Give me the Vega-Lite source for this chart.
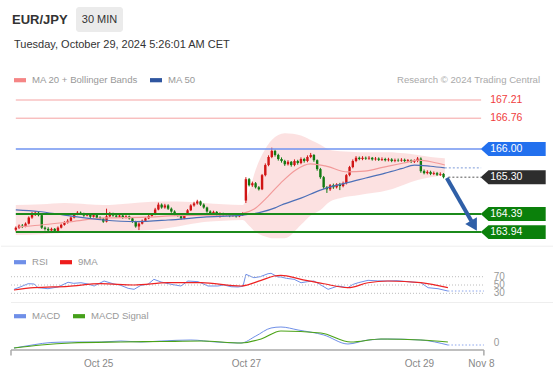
{
  "$schema": "https://vega.github.io/schema/vega-lite/v6.json",
  "background": "white",
  "padding": {"left": 0, "top": 7, "right": 0, "bottom": 0},
  "autosize": {"type": "pad"},
  "spacing": 0,
  "config": {"view": {"stroke": null}, "font": "Liberation Sans"},
  "resolve": {"scale": {"color": "independent"}, "legend": {"color": "independent"}},
  "datasets": {
    "candles": [
      {"i":0,"o":164.00,"c":164.05,"h":164.08,"l":163.96},{"i":1,"o":164.05,"c":164.10,"h":164.13,"l":164.02},{"i":2,"o":164.10,"c":164.08,"h":164.14,"l":164.04},{"i":3,"o":164.08,"c":164.15,"h":164.18,"l":164.06},{"i":4,"o":164.15,"c":164.30,"h":164.33,"l":164.13},{"i":5,"o":164.30,"c":164.38,"h":164.44,"l":164.27},{"i":6,"o":164.38,"c":164.42,"h":164.46,"l":164.34},{"i":7,"o":164.42,"c":164.36,"h":164.45,"l":164.33},{"i":8,"o":164.36,"c":164.05,"h":164.39,"l":164.02},{"i":9,"o":164.05,"c":164.02,"h":164.08,"l":163.98},
      {"i":10,"o":164.02,"c":163.98,"h":164.06,"l":163.95},{"i":11,"o":163.98,"c":164.02,"h":164.05,"l":163.95},{"i":12,"o":164.02,"c":163.97,"h":164.04,"l":163.93},{"i":13,"o":163.97,"c":164.05,"h":164.08,"l":163.95},{"i":14,"o":164.05,"c":164.12,"h":164.15,"l":164.03},{"i":15,"o":164.12,"c":164.18,"h":164.21,"l":164.10},{"i":16,"o":164.18,"c":164.22,"h":164.26,"l":164.15},{"i":17,"o":164.22,"c":164.30,"h":164.33,"l":164.20},{"i":18,"o":164.30,"c":164.38,"h":164.41,"l":164.28},{"i":19,"o":164.38,"c":164.42,"h":164.46,"l":164.36},
      {"i":20,"o":164.42,"c":164.40,"h":164.45,"l":164.37},{"i":21,"o":164.40,"c":164.35,"h":164.42,"l":164.32},{"i":22,"o":164.35,"c":164.37,"h":164.40,"l":164.33},{"i":23,"o":164.37,"c":164.32,"h":164.39,"l":164.29},{"i":24,"o":164.32,"c":164.36,"h":164.39,"l":164.30},{"i":25,"o":164.36,"c":164.30,"h":164.38,"l":164.27},{"i":26,"o":164.30,"c":164.27,"h":164.33,"l":164.24},{"i":27,"o":164.27,"c":164.20,"h":164.29,"l":164.17},{"i":28,"o":164.20,"c":164.33,"h":164.52,"l":164.18},{"i":29,"o":164.33,"c":164.40,"h":164.44,"l":164.31},
      {"i":30,"o":164.40,"c":164.35,"h":164.42,"l":164.32},{"i":31,"o":164.35,"c":164.32,"h":164.38,"l":164.29},{"i":32,"o":164.32,"c":164.35,"h":164.38,"l":164.30},{"i":33,"o":164.35,"c":164.30,"h":164.37,"l":164.27},{"i":34,"o":164.30,"c":164.33,"h":164.36,"l":164.28},{"i":35,"o":164.33,"c":164.28,"h":164.35,"l":164.25},{"i":36,"o":164.28,"c":164.20,"h":164.30,"l":164.17},{"i":37,"o":164.20,"c":164.08,"h":164.22,"l":164.05},{"i":38,"o":164.08,"c":164.15,"h":164.18,"l":163.99},{"i":39,"o":164.15,"c":164.22,"h":164.25,"l":164.13},
      {"i":40,"o":164.22,"c":164.28,"h":164.31,"l":164.20},{"i":41,"o":164.28,"c":164.34,"h":164.37,"l":164.26},{"i":42,"o":164.34,"c":164.38,"h":164.41,"l":164.32},{"i":43,"o":164.38,"c":164.50,"h":164.54,"l":164.36},{"i":44,"o":164.50,"c":164.62,"h":164.67,"l":164.48},{"i":45,"o":164.62,"c":164.55,"h":164.65,"l":164.52},{"i":46,"o":164.55,"c":164.60,"h":164.64,"l":164.52},{"i":47,"o":164.60,"c":164.52,"h":164.63,"l":164.49},{"i":48,"o":164.52,"c":164.45,"h":164.55,"l":164.42},{"i":49,"o":164.45,"c":164.38,"h":164.48,"l":164.35},
      {"i":50,"o":164.38,"c":164.35,"h":164.41,"l":164.32},{"i":51,"o":164.35,"c":164.28,"h":164.37,"l":164.25},{"i":52,"o":164.28,"c":164.36,"h":164.39,"l":164.26},{"i":53,"o":164.36,"c":164.48,"h":164.51,"l":164.34},{"i":54,"o":164.48,"c":164.60,"h":164.63,"l":164.46},{"i":55,"o":164.60,"c":164.65,"h":164.69,"l":164.57},{"i":56,"o":164.65,"c":164.70,"h":164.74,"l":164.62},{"i":57,"o":164.70,"c":164.62,"h":164.72,"l":164.59},{"i":58,"o":164.62,"c":164.55,"h":164.65,"l":164.52},{"i":59,"o":164.55,"c":164.45,"h":164.57,"l":164.42},
      {"i":60,"o":164.45,"c":164.40,"h":164.48,"l":164.37},{"i":61,"o":164.40,"c":164.44,"h":164.47,"l":164.38},{"i":62,"o":164.44,"c":164.38,"h":164.46,"l":164.35},{"i":63,"o":164.38,"c":164.40,"h":164.43,"l":164.30},{"i":64,"o":164.40,"c":164.36,"h":164.42,"l":164.33},{"i":65,"o":164.36,"c":164.38,"h":164.41,"l":164.34},{"i":66,"o":164.38,"c":164.34,"h":164.40,"l":164.31},{"i":67,"o":164.34,"c":164.37,"h":164.40,"l":164.32},{"i":68,"o":164.37,"c":164.33,"h":164.39,"l":164.30},{"i":69,"o":164.33,"c":164.36,"h":164.39,"l":164.31},
      {"i":70,"o":164.36,"c":164.40,"h":164.43,"l":164.34},{"i":71,"o":164.72,"c":165.25,"h":165.30,"l":164.66},{"i":72,"o":165.25,"c":165.10,"h":165.28,"l":165.07},{"i":73,"o":165.10,"c":165.15,"h":165.19,"l":165.06},{"i":74,"o":165.15,"c":165.05,"h":165.18,"l":165.02},{"i":75,"o":165.05,"c":165.00,"h":165.08,"l":164.97},{"i":76,"o":165.00,"c":165.35,"h":165.38,"l":164.98},{"i":77,"o":165.35,"c":165.60,"h":165.64,"l":165.32},{"i":78,"o":165.60,"c":165.80,"h":165.84,"l":165.57},{"i":79,"o":165.80,"c":165.95,"h":166.03,"l":165.77},
      {"i":80,"o":165.95,"c":165.85,"h":165.98,"l":165.81},{"i":81,"o":165.85,"c":165.75,"h":165.88,"l":165.71},{"i":82,"o":165.75,"c":165.70,"h":165.79,"l":165.66},{"i":83,"o":165.70,"c":165.62,"h":165.73,"l":165.58},{"i":84,"o":165.62,"c":165.68,"h":165.72,"l":165.59},{"i":85,"o":165.68,"c":165.60,"h":165.70,"l":165.56},{"i":86,"o":165.60,"c":165.70,"h":165.74,"l":165.57},{"i":87,"o":165.70,"c":165.65,"h":165.73,"l":165.61},{"i":88,"o":165.65,"c":165.75,"h":165.79,"l":165.62},{"i":89,"o":165.75,"c":165.70,"h":165.78,"l":165.66},
      {"i":90,"o":165.70,"c":165.80,"h":165.84,"l":165.67},{"i":91,"o":165.80,"c":165.85,"h":165.90,"l":165.77},{"i":92,"o":165.85,"c":165.72,"h":165.87,"l":165.68},{"i":93,"o":165.72,"c":165.50,"h":165.74,"l":165.46},{"i":94,"o":165.50,"c":165.30,"h":165.53,"l":165.26},{"i":95,"o":165.30,"c":165.05,"h":165.33,"l":165.01},{"i":96,"o":165.05,"c":165.00,"h":165.08,"l":164.91},{"i":97,"o":165.00,"c":165.10,"h":165.13,"l":164.96},{"i":98,"o":165.10,"c":165.05,"h":165.14,"l":165.01},{"i":99,"o":165.05,"c":165.12,"h":165.15,"l":165.02},
      {"i":100,"o":165.12,"c":165.08,"h":165.16,"l":164.98},{"i":101,"o":165.08,"c":165.15,"h":165.19,"l":165.05},{"i":102,"o":165.15,"c":165.35,"h":165.38,"l":165.12},{"i":103,"o":165.35,"c":165.55,"h":165.58,"l":165.32},{"i":104,"o":165.55,"c":165.70,"h":165.74,"l":165.52},{"i":105,"o":165.70,"c":165.78,"h":165.82,"l":165.67},{"i":106,"o":165.78,"c":165.75,"h":165.81,"l":165.72},{"i":107,"o":165.75,"c":165.78,"h":165.82,"l":165.72},{"i":108,"o":165.78,"c":165.76,"h":165.81,"l":165.73},{"i":109,"o":165.76,"c":165.78,"h":165.82,"l":165.73},
      {"i":110,"o":165.78,"c":165.74,"h":165.80,"l":165.71},{"i":111,"o":165.74,"c":165.76,"h":165.80,"l":165.71},{"i":112,"o":165.76,"c":165.73,"h":165.79,"l":165.70},{"i":113,"o":165.73,"c":165.75,"h":165.79,"l":165.70},{"i":114,"o":165.75,"c":165.72,"h":165.78,"l":165.69},{"i":115,"o":165.72,"c":165.74,"h":165.78,"l":165.69},{"i":116,"o":165.74,"c":165.70,"h":165.77,"l":165.67},{"i":117,"o":165.70,"c":165.72,"h":165.76,"l":165.67},{"i":118,"o":165.72,"c":165.71,"h":165.76,"l":165.68},{"i":119,"o":165.71,"c":165.73,"h":165.77,"l":165.68},
      {"i":120,"o":165.73,"c":165.70,"h":165.76,"l":165.67},{"i":121,"o":165.70,"c":165.72,"h":165.75,"l":165.67},{"i":122,"o":165.72,"c":165.68,"h":165.74,"l":165.65},{"i":123,"o":165.68,"c":165.70,"h":165.74,"l":165.65},{"i":124,"o":165.70,"c":165.76,"h":165.80,"l":165.67},{"i":125,"o":165.76,"c":165.45,"h":165.79,"l":165.41},{"i":126,"o":165.45,"c":165.40,"h":165.49,"l":165.37},{"i":127,"o":165.40,"c":165.43,"h":165.47,"l":165.37},{"i":128,"o":165.43,"c":165.38,"h":165.46,"l":165.35},{"i":129,"o":165.38,"c":165.40,"h":165.44,"l":165.35},
      {"i":130,"o":165.40,"c":165.36,"h":165.43,"l":165.33},{"i":131,"o":165.36,"c":165.38,"h":165.42,"l":165.33},{"i":132,"o":165.38,"c":165.30,"h":165.40,"l":165.27}
    ],
    "bb": [
      {"i":0,"up":164.61,"lo":163.87},{"i":8,"up":164.63,"lo":163.89},{"i":15,"up":164.66,"lo":163.92},{"i":22,"up":164.63,"lo":163.93},{"i":27,"up":164.61,"lo":163.94},{"i":35,"up":164.65,"lo":163.97},{"i":42,"up":164.69,"lo":163.99},{"i":50,"up":164.70,"lo":164.08},{"i":58,"up":164.66,"lo":164.19},{"i":64,"up":164.63,"lo":164.22},{"i":70,"up":164.61,"lo":164.24},{"i":72,"up":164.95,"lo":164.10},{"i":74,"up":165.48,"lo":163.94},{"i":77,"up":166.00,"lo":163.83},{"i":79,"up":166.22,"lo":163.79},{"i":83,"up":166.39,"lo":163.79},{"i":88,"up":166.33,"lo":164.12},{"i":91,"up":166.22,"lo":164.35},{"i":94,"up":166.10,"lo":164.49},{"i":97,"up":165.97,"lo":164.70},{"i":100,"up":165.94,"lo":164.78},{"i":106,"up":165.92,"lo":164.86},{"i":115,"up":165.92,"lo":164.98},{"i":120,"up":165.89,"lo":165.12},{"i":124,"up":165.85,"lo":165.23},{"i":128,"up":165.80,"lo":165.30},{"i":132.4,"up":165.77,"lo":165.35}
    ],
    "ma20": [
      {"i":0.9,"v":164.07},{"i":7,"v":164.11},{"i":17.3,"v":164.20},{"i":27.3,"v":164.29},{"i":40.3,"v":164.31},{"i":47.6,"v":164.34},{"i":57.6,"v":164.36},{"i":67.6,"v":164.36},{"i":69.7,"v":164.40},{"i":73.6,"v":164.51},{"i":77.3,"v":164.78},{"i":81.8,"v":165.16},{"i":86.4,"v":165.48},{"i":90.9,"v":165.63},{"i":95.5,"v":165.58},{"i":102.4,"v":165.43},{"i":107.6,"v":165.45},{"i":113.6,"v":165.55},{"i":119.7,"v":165.65},{"i":124.2,"v":165.72},{"i":128.8,"v":165.67},{"i":132.4,"v":165.60}
    ],
    "ma50": [
      {"i":0,"v":164.49},{"i":7,"v":164.45},{"i":15,"v":164.36},{"i":27,"v":164.24},{"i":37,"v":164.20},{"i":47,"v":164.24},{"i":58,"v":164.31},{"i":70,"v":164.36},{"i":76,"v":164.44},{"i":80,"v":164.54},{"i":82,"v":164.61},{"i":88,"v":164.78},{"i":94,"v":164.98},{"i":102,"v":165.16},{"i":108,"v":165.28},{"i":114,"v":165.40},{"i":119,"v":165.51},{"i":123,"v":165.60},{"i":128,"v":165.57},{"i":132.4,"v":165.53}
    ],
    "rsi": [
      {"i":0.9,"v":39.6},{"i":3,"v":46},{"i":5.2,"v":53.1},{"i":7,"v":52.4},{"i":8.2,"v":43.5},{"i":11.2,"v":41.1},{"i":14.2,"v":45.2},{"i":17.3,"v":56.5},{"i":19,"v":54},{"i":21.2,"v":55.5},{"i":23.3,"v":52.4},{"i":25.2,"v":47.6},{"i":28.2,"v":59.6},{"i":31.2,"v":52.4},{"i":33,"v":50},{"i":35.5,"v":42.0},{"i":37.3,"v":39.6},{"i":39.4,"v":49.3},{"i":41.5,"v":51.7},{"i":43.3,"v":63.7},{"i":45.5,"v":57.2},{"i":48.5,"v":51.7},{"i":51.5,"v":47.6},{"i":53.6,"v":59.6},{"i":56.7,"v":58.0},{"i":59.7,"v":47.6},{"i":62.7,"v":47.6},{"i":64.5,"v":50},{"i":66.7,"v":45.9},{"i":68.8,"v":45.2},{"i":70.3,"v":47},{"i":71.2,"v":75.8},{"i":73.6,"v":67.6},{"i":75.5,"v":70},{"i":77.9,"v":77.2},{"i":78.8,"v":78.2},{"i":80.9,"v":69.3},{"i":81.8,"v":69.3},{"i":83.5,"v":66},{"i":85.8,"v":63.7},{"i":87.9,"v":55.5},{"i":89.8,"v":58},{"i":91.8,"v":59.6},{"i":93.5,"v":52},{"i":96.1,"v":39.6},{"i":99.1,"v":47.6},{"i":102.1,"v":43.5},{"i":103.5,"v":51},{"i":105.2,"v":55.5},{"i":108.2,"v":61.3},{"i":111,"v":60},{"i":114.2,"v":59.6},{"i":117,"v":60.5},{"i":120.3,"v":58.0},{"i":124.2,"v":55.5},{"i":126.4,"v":43.5},{"i":129.4,"v":41.1},{"i":132.4,"v":35.5}
    ],
    "rsima": [
      {"i":0.9,"v":38},{"i":7,"v":43.5},{"i":17.3,"v":46.9},{"i":27.3,"v":53.1},{"i":37.3,"v":50},{"i":47.6,"v":55.5},{"i":57.6,"v":55.5},{"i":69.7,"v":47.6},{"i":75.8,"v":61.3},{"i":79.7,"v":71.7},{"i":81.8,"v":73.4},{"i":87.9,"v":63.7},{"i":94.8,"v":53.1},{"i":102.1,"v":43.5},{"i":108.2,"v":55.5},{"i":114.2,"v":59.6},{"i":124.2,"v":55.5},{"i":132.4,"v":43.5}
    ],
    "macd": [
      {"i":0.9,"v":-0.04},{"i":7,"v":-0.007},{"i":12.1,"v":0.015},{"i":18.2,"v":0.02},{"i":27.3,"v":0.02},{"i":33.3,"v":0.03},{"i":39.4,"v":0.02},{"i":45.5,"v":0.03},{"i":54.5,"v":0.04},{"i":62.1,"v":0.02},{"i":69.7,"v":0.01},{"i":74.2,"v":0.08},{"i":78.8,"v":0.16},{"i":81.8,"v":0.17},{"i":87,"v":0.14},{"i":94.8,"v":0.09},{"i":102.1,"v":0.0},{"i":108.2,"v":0.04},{"i":114.2,"v":0.05},{"i":124.2,"v":0.04},{"i":132.4,"v":-0.01}
    ],
    "sig": [
      {"i":0.9,"v":-0.04},{"i":9.1,"v":-0.01},{"i":18.2,"v":0.01},{"i":33.3,"v":0.02},{"i":45.5,"v":0.025},{"i":57.6,"v":0.03},{"i":69.7,"v":0.01},{"i":75.8,"v":0.05},{"i":81.8,"v":0.13},{"i":93.9,"v":0.11},{"i":103,"v":0.02},{"i":112.1,"v":0.05},{"i":124.2,"v":0.04},{"i":132.4,"v":0.02}
    ]
  },
  "vconcat": [
    {
      "hconcat": [
        {
          "width": 22, "height": 25,
          "data": {"values": [{"t": "EUR/JPY"}]},
          "mark": {"type": "text", "align": "left", "baseline": "middle", "fontSize": 13, "fontWeight": "bold", "color": "#333333"},
          "encoding": {"text": {"field": "t", "type": "nominal"}}
        },
        {
          "width": 47, "height": 25,
          "view": {"fill": "#ebebeb", "stroke": null, "cornerRadius": 3},
          "data": {"values": [{"t": "30 MIN"}]},
          "mark": {"type": "text", "align": "center", "baseline": "middle", "fontSize": 11, "color": "#333333"},
          "encoding": {"text": {"field": "t", "type": "nominal"}}
        }
      ],
      "spacing": 53,
      "bounds": "flush"
    },
    {
      "width": 26, "height": 26,
      "data": {"values": [{"t": "Tuesday, October 29, 2024 5:26:01 AM CET"}]},
      "mark": {"type": "text", "align": "left", "baseline": "middle", "fontSize": 11, "color": "#333333"},
      "encoding": {"text": {"field": "t", "type": "nominal"}}
    },
    {
      "width": 553, "height": 187,
      "layer": [
        {
          "data": {"name": "bb"},
          "mark": {"type": "area", "color": "#f9c4c4", "opacity": 0.5, "interpolate": "monotone"},
          "encoding": {
            "x": {"field": "i", "type": "quantitative", "scale": {"domain": [-3.03, 164.55], "nice": false, "zero": false}, "axis": null},
            "y": {"field": "up", "type": "quantitative", "scale": {"domain": [163.621, 168.25], "nice": false, "zero": false}, "axis": null},
            "y2": {"field": "lo"}
          }
        },
        {
          "data": {"name": "candles"},
          "mark": {"type": "rule", "strokeWidth": 1},
          "encoding": {
            "x": {"field": "i", "type": "quantitative", "axis": null},
            "y": {"field": "l", "type": "quantitative", "axis": null},
            "y2": {"field": "h"},
            "color": {"condition": {"test": "datum.c >= datum.o", "value": "#d01515"}, "value": "#127a12"}
          }
        },
        {
          "data": {"name": "candles"},
          "mark": {"type": "bar", "size": 2.4},
          "encoding": {
            "x": {"field": "i", "type": "quantitative", "axis": null},
            "y": {"field": "o", "type": "quantitative", "axis": null},
            "y2": {"field": "c"},
            "color": {"condition": {"test": "datum.c >= datum.o", "value": "#d01515"}, "value": "#127a12"}
          }
        },
        {
          "data": {"name": "ma20"},
          "mark": {"type": "line", "color": "#f29a9a", "strokeWidth": 1.2, "interpolate": "monotone"},
          "encoding": {
            "x": {"field": "i", "type": "quantitative", "axis": null},
            "y": {"field": "v", "type": "quantitative", "axis": null}
          }
        },
        {
          "data": {"name": "ma50"},
          "mark": {"type": "line", "color": "#4d70b8", "strokeWidth": 1.2, "interpolate": "monotone"},
          "encoding": {
            "x": {"field": "i", "type": "quantitative", "axis": null},
            "y": {"field": "v", "type": "quantitative", "axis": null}
          }
        },
        {
          "data": {"values": [{"p": 167.21}, {"p": 166.76}]},
          "mark": {"type": "rule", "color": "#f5a3a3", "strokeWidth": 1},
          "encoding": {
            "x": {"datum": 0, "type": "quantitative", "axis": null},
            "x2": {"datum": 143.6},
            "y": {"field": "p", "type": "quantitative", "axis": null}
          }
        },
        {
          "data": {"values": [{"p": 166.00}]},
          "mark": {"type": "rule", "color": "#6f93f0", "strokeWidth": 1.5},
          "encoding": {
            "x": {"datum": 0, "type": "quantitative", "axis": null},
            "x2": {"datum": 143.6},
            "y": {"field": "p", "type": "quantitative", "axis": null}
          }
        },
        {
          "data": {"values": [{"p": 164.39}, {"p": 163.94}]},
          "mark": {"type": "rule", "color": "#1b8a1b", "strokeWidth": 2},
          "encoding": {
            "x": {"datum": 0, "type": "quantitative", "axis": null},
            "x2": {"datum": 143.6},
            "y": {"field": "p", "type": "quantitative", "axis": null}
          }
        },
        {
          "data": {"values": [{"p": 165.30}]},
          "mark": {"type": "rule", "color": "#555555", "strokeWidth": 1, "strokeDash": [2, 2]},
          "encoding": {
            "x": {"datum": 133.5, "type": "quantitative", "axis": null},
            "x2": {"datum": 143.6},
            "y": {"field": "p", "type": "quantitative", "axis": null}
          }
        },
        {
          "data": {"values": [{"p": 165.53}]},
          "mark": {"type": "rule", "color": "#7d9ad8", "strokeWidth": 1, "strokeDash": [2, 2]},
          "encoding": {
            "x": {"datum": 132.4, "type": "quantitative", "axis": null},
            "x2": {"datum": 143.6},
            "y": {"field": "p", "type": "quantitative", "axis": null}
          }
        },
        {
          "data": {"values": [{"i": 133.0, "p": 165.28}, {"i": 140.6, "p": 164.215}]},
          "mark": {"type": "line", "color": "#2f5fa7", "strokeWidth": 4, "strokeCap": "butt"},
          "encoding": {
            "x": {"field": "i", "type": "quantitative", "axis": null},
            "y": {"field": "p", "type": "quantitative", "axis": null}
          }
        },
        {
          "data": {"values": [{"i": 141.4, "p": 164.10}]},
          "mark": {"type": "point", "shape": "triangle-down", "angle": 330, "filled": true, "opacity": 1, "size": 180, "color": "#2f5fa7"},
          "encoding": {
            "x": {"field": "i", "type": "quantitative", "axis": null},
            "y": {"field": "p", "type": "quantitative", "axis": null}
          }
        },
        {
          "data": {"values": [{"p": 166.00}]},
          "mark": {"type": "point", "shape": "M-1,0L-0.76,-0.215L1,-0.215L1,0.215L-0.76,0.215Z", "filled": true, "opacity": 1, "size": 4225, "color": "#2270ee"},
          "encoding": {
            "x": {"datum": 153.5, "type": "quantitative", "axis": null},
            "y": {"field": "p", "type": "quantitative", "axis": null}
          }
        },
        {
          "data": {"values": [{"p": 165.30}]},
          "mark": {"type": "point", "shape": "M-1,0L-0.76,-0.215L1,-0.215L1,0.215L-0.76,0.215Z", "filled": true, "opacity": 1, "size": 4225, "color": "#2d2d2d"},
          "encoding": {
            "x": {"datum": 153.5, "type": "quantitative", "axis": null},
            "y": {"field": "p", "type": "quantitative", "axis": null}
          }
        },
        {
          "data": {"values": [{"p": 164.39}, {"p": 163.94}]},
          "mark": {"type": "point", "shape": "M-1,0L-0.76,-0.215L1,-0.215L1,0.215L-0.76,0.215Z", "filled": true, "opacity": 1, "size": 4225, "color": "#0b800b"},
          "encoding": {
            "x": {"datum": 153.5, "type": "quantitative", "axis": null},
            "y": {"field": "p", "type": "quantitative", "axis": null}
          }
        },
        {
          "data": {"values": [{"p": 166.00}, {"p": 165.30}, {"p": 164.39}, {"p": 163.94}]},
          "mark": {"type": "text", "align": "left", "baseline": "middle", "fontSize": 10.5, "color": "white"},
          "encoding": {
            "x": {"datum": 146.4, "type": "quantitative", "axis": null},
            "y": {"field": "p", "type": "quantitative", "axis": null},
            "text": {"field": "p", "type": "quantitative", "format": ".2f"}
          }
        },
        {
          "data": {"values": [{"p": 167.21}, {"p": 166.76}]},
          "mark": {"type": "text", "align": "left", "baseline": "middle", "fontSize": 10.5, "color": "#f03c3c"},
          "encoding": {
            "x": {"datum": 146.4, "type": "quantitative", "axis": null},
            "y": {"field": "p", "type": "quantitative", "axis": null},
            "text": {"field": "p", "type": "quantitative", "format": ".2f"}
          }
        },
        {
          "data": {"values": [{"t": "Research © 2024 Trading Central"}]},
          "mark": {"type": "text", "align": "right", "baseline": "middle", "fontSize": 9.6, "color": "#aaaaaa"},
          "encoding": {
            "x": {"datum": 161.8, "type": "quantitative", "axis": null},
            "y": {"datum": 167.705, "type": "quantitative", "axis": null},
            "text": {"field": "t", "type": "nominal"}
          }
        },
        {
          "data": {"values": []},
          "mark": {"type": "point", "filled": true, "opacity": 1},
          "encoding": {
            "color": {
              "datum": "MA 50", "type": "nominal",
              "scale": {"domain": ["MA 20 + Bollinger Bands", "MA 50"], "range": ["#f58585", "#2f56a0"]},
              "legend": {"orient": "none", "legendX": 13, "legendY": 16, "direction": "horizontal", "title": null, "padding": 0, "symbolType": "M-1,-0.35H1V0.35H-1Z", "symbolSize": 144, "symbolStrokeWidth": 0, "labelFontSize": 9.6, "labelColor": "#999999", "labelOffset": 6, "columnPadding": 12}
            }
          }
        }
      ]
    },
    {
      "width": 553, "height": 54,
      "layer": [
        {
          "data": {"name": "rsi"},
          "mark": {"type": "line", "color": "#6f8fe8", "strokeWidth": 1},
          "encoding": {
            "x": {"field": "i", "type": "quantitative", "scale": {"domain": [-3.03, 164.55], "nice": false, "zero": false}, "axis": null},
            "y": {"field": "v", "type": "quantitative", "scale": {"domain": [13.86, 143.99], "nice": false, "zero": false}, "axis": null}
          }
        },
        {
          "data": {"values": [{"v": 143.5}]},
          "mark": {"type": "rule", "color": "#eeeeee", "strokeWidth": 1},
          "encoding": {
            "y": {"field": "v", "type": "quantitative", "axis": null}
          }
        },
        {
          "data": {"values": [{"v": 70}, {"v": 50}, {"v": 30}]},
          "mark": {"type": "rule", "color": "#bbbbbb", "strokeWidth": 1, "strokeDash": [1, 2]},
          "encoding": {
            "x": {"datum": 0, "type": "quantitative", "axis": null},
            "x2": {"datum": 143.3},
            "y": {"field": "v", "type": "quantitative", "axis": null}
          }
        },
        {
          "data": {"name": "rsima"},
          "mark": {"type": "line", "color": "#ee2222", "strokeWidth": 1.2, "interpolate": "monotone"},
          "encoding": {
            "x": {"field": "i", "type": "quantitative", "axis": null},
            "y": {"field": "v", "type": "quantitative", "axis": null}
          }
        },
        {
          "data": {"values": [{"v": 35.5}]},
          "mark": {"type": "rule", "color": "#8aa4ec", "strokeWidth": 1, "strokeDash": [1.5, 2]},
          "encoding": {
            "x": {"datum": 132.4, "type": "quantitative", "axis": null},
            "x2": {"datum": 143.3},
            "y": {"field": "v", "type": "quantitative", "axis": null}
          }
        },
        {
          "data": {"values": [{"v": 70}, {"v": 50}, {"v": 30}]},
          "mark": {"type": "text", "align": "left", "baseline": "middle", "fontSize": 10, "color": "#999999"},
          "encoding": {
            "x": {"datum": 146.3, "type": "quantitative", "axis": null},
            "y": {"field": "v", "type": "quantitative", "axis": null},
            "text": {"field": "v", "type": "quantitative"}
          }
        },
        {
          "data": {"values": []},
          "mark": {"type": "point", "filled": true, "opacity": 1},
          "encoding": {
            "color": {
              "datum": "RSI", "type": "nominal",
              "scale": {"domain": ["RSI", "9MA"], "range": ["#6f8fe8", "#ee1c1c"]},
              "legend": {"orient": "none", "legendX": 13, "legendY": 10, "direction": "horizontal", "title": null, "padding": 0, "symbolType": "M-1,-0.35H1V0.35H-1Z", "symbolSize": 144, "symbolStrokeWidth": 0, "labelFontSize": 9.6, "labelColor": "#999999", "labelOffset": 6, "columnPadding": 12}
            }
          }
        }
      ]
    },
    {
      "width": 553, "height": 48,
      "encoding": {
        "x": {
          "field": "i", "type": "quantitative",
          "scale": {"domain": [-3.03, 164.55], "nice": false, "zero": false},
          "axis": {"orient": "bottom", "values": [26.4, 71.2, 123.6, 142.4], "labelExpr": "datum.value < 50 ? 'Oct 25' : datum.value < 100 ? 'Oct 27' : datum.value < 130 ? 'Oct 29' : 'Nov 8'", "domain": false, "ticks": false, "grid": false, "title": null, "labelColor": "#888888", "labelFontSize": 10, "labelPadding": 8, "labelFlush": false, "labelOverlap": false}
        }
      },
      "layer": [
        {
          "data": {"name": "macd"},
          "mark": {"type": "line", "color": "#6f8fe8", "strokeWidth": 1, "interpolate": "monotone"},
          "encoding": {
            "y": {"field": "v", "type": "quantitative", "scale": {"domain": [-0.06, 0.42], "nice": false, "zero": false}, "axis": null}
          }
        },
        {
          "data": {"name": "sig"},
          "mark": {"type": "line", "color": "#4ca317", "strokeWidth": 1.2, "interpolate": "monotone"},
          "encoding": {
            "y": {"field": "v", "type": "quantitative", "axis": null}
          }
        },
        {
          "data": {"values": [{"i": 0, "v": 0.415}, {"i": 164.5, "v": 0.415}]},
          "mark": {"type": "line", "color": "#eeeeee", "strokeWidth": 1},
          "encoding": {
            "y": {"field": "v", "type": "quantitative", "axis": null}
          }
        },
        {
          "data": {"values": [{"i": 132.4, "v": -0.01}, {"i": 143.3, "v": -0.01}]},
          "mark": {"type": "line", "color": "#8aa4ec", "strokeWidth": 1, "strokeDash": [1.5, 2]},
          "encoding": {
            "y": {"field": "v", "type": "quantitative", "axis": null}
          }
        },
        {
          "data": {"values": [{"i": 146.3, "v": 0.01, "t": "0"}]},
          "mark": {"type": "text", "align": "left", "baseline": "middle", "fontSize": 10, "color": "#999999"},
          "encoding": {
            "y": {"field": "v", "type": "quantitative", "axis": null},
            "text": {"field": "t", "type": "nominal"}
          }
        },
        {
          "data": {"values": [{"i": 0, "v": -0.06}, {"i": 143.3, "v": -0.06}]},
          "mark": {"type": "line", "color": "#aaaaaa", "strokeWidth": 1.5},
          "encoding": {
            "y": {"field": "v", "type": "quantitative", "axis": null}
          }
        },
        {
          "data": {"values": [{"i": 0}, {"i": 143.3}]},
          "mark": {"type": "rule", "color": "#aaaaaa", "strokeWidth": 1.5},
          "encoding": {
            "y": {"datum": -0.06, "type": "quantitative", "axis": null},
            "y2": {"datum": -0.115}
          }
        },
        {
          "data": {"values": []},
          "mark": {"type": "point", "filled": true, "opacity": 1},
          "encoding": {
            "x": null,
            "color": {
              "datum": "MACD", "type": "nominal",
              "scale": {"domain": ["MACD", "MACD Signal"], "range": ["#6f8fe8", "#45a01a"]},
              "legend": {"orient": "none", "legendX": 13, "legendY": 8, "direction": "horizontal", "title": null, "padding": 0, "symbolType": "M-1,-0.35H1V0.35H-1Z", "symbolSize": 144, "symbolStrokeWidth": 0, "labelFontSize": 9.6, "labelColor": "#999999", "labelOffset": 6, "columnPadding": 12}
            }
          }
        }
      ]
    }
  ]
}
